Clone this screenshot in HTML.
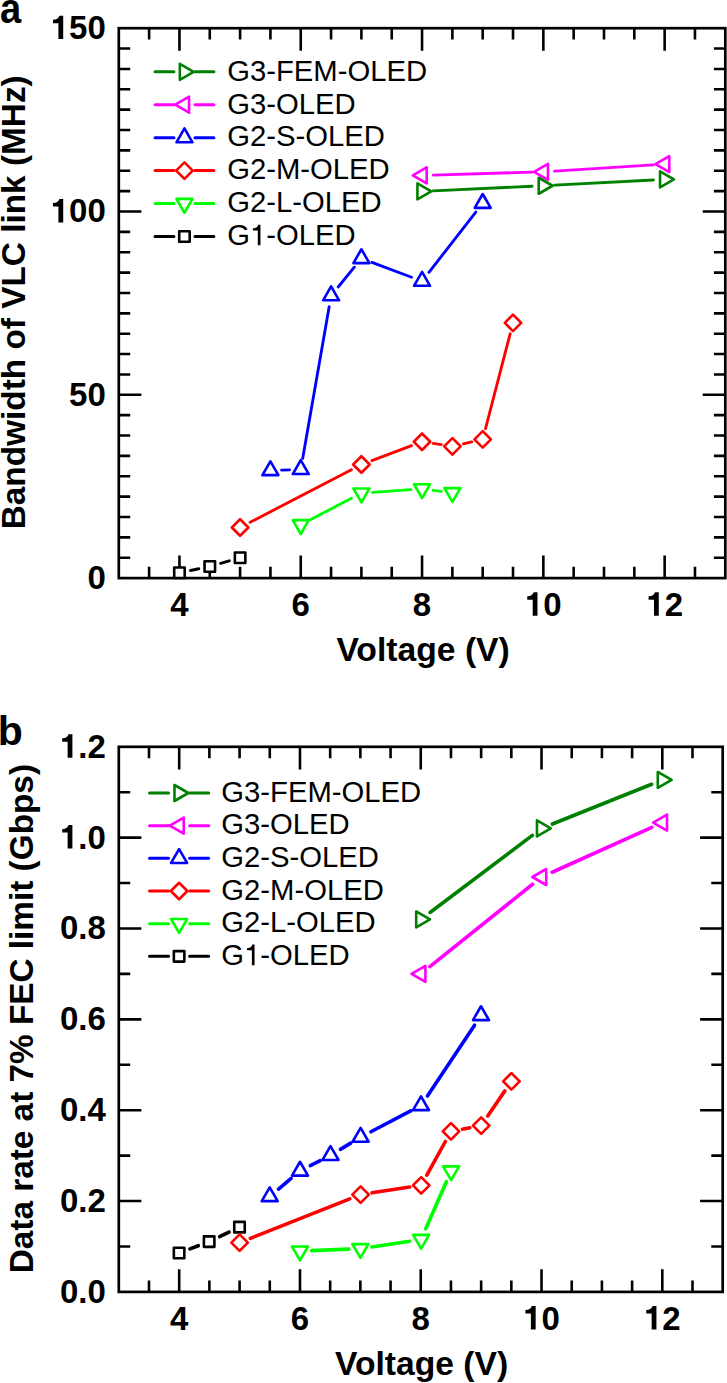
<!DOCTYPE html>
<html><head><meta charset="utf-8"><style>
html,body{margin:0;padding:0;background:#fff;}
svg{display:block;}
text{font-family:"Liberation Sans",sans-serif;fill:#000;}
.tk{font-size:33px;font-weight:bold;}
.ax{font-size:33px;font-weight:bold;}
.lg{font-size:29.25px;}
.pl{font-size:41px;font-weight:bold;}
</style></head><body>
<svg width="727" height="1383" viewBox="0 0 727 1383">
<rect width="727" height="1383" fill="#fff"/>
<path d="M179.45 578.1v-22.6M179.45 28.2v22.6M300.75 578.1v-22.6M300.75 28.2v22.6M422.05 578.1v-22.6M422.05 28.2v22.6M543.35 578.1v-22.6M543.35 28.2v22.6M664.65 578.1v-22.6M664.65 28.2v22.6M149.12 578.1v-11.4M149.12 28.2v11.4M209.77 578.1v-11.4M209.77 28.2v11.4M240.1 578.1v-11.4M240.1 28.2v11.4M270.43 578.1v-11.4M270.43 28.2v11.4M331.07 578.1v-11.4M331.07 28.2v11.4M361.4 578.1v-11.4M361.4 28.2v11.4M391.73 578.1v-11.4M391.73 28.2v11.4M452.38 578.1v-11.4M452.38 28.2v11.4M482.7 578.1v-11.4M482.7 28.2v11.4M513.02 578.1v-11.4M513.02 28.2v11.4M573.67 578.1v-11.4M573.67 28.2v11.4M604 578.1v-11.4M604 28.2v11.4M634.32 578.1v-11.4M634.32 28.2v11.4M694.97 578.1v-11.4M694.97 28.2v11.4M118.8 394.8h22.6M725.3 394.8h-22.6M118.8 211.5h22.6M725.3 211.5h-22.6M118.8 557.73h11.4M725.3 557.73h-11.4M118.8 537.37h11.4M725.3 537.37h-11.4M118.8 517h11.4M725.3 517h-11.4M118.8 496.63h11.4M725.3 496.63h-11.4M118.8 476.27h11.4M725.3 476.27h-11.4M118.8 455.9h11.4M725.3 455.9h-11.4M118.8 435.53h11.4M725.3 435.53h-11.4M118.8 415.17h11.4M725.3 415.17h-11.4M118.8 374.43h11.4M725.3 374.43h-11.4M118.8 354.07h11.4M725.3 354.07h-11.4M118.8 333.7h11.4M725.3 333.7h-11.4M118.8 313.33h11.4M725.3 313.33h-11.4M118.8 292.97h11.4M725.3 292.97h-11.4M118.8 272.6h11.4M725.3 272.6h-11.4M118.8 252.23h11.4M725.3 252.23h-11.4M118.8 231.87h11.4M725.3 231.87h-11.4M118.8 191.13h11.4M725.3 191.13h-11.4M118.8 170.77h11.4M725.3 170.77h-11.4M118.8 150.4h11.4M725.3 150.4h-11.4M118.8 130.03h11.4M725.3 130.03h-11.4M118.8 109.67h11.4M725.3 109.67h-11.4M118.8 89.3h11.4M725.3 89.3h-11.4M118.8 68.93h11.4M725.3 68.93h-11.4M118.8 48.57h11.4M725.3 48.57h-11.4" stroke="#000" stroke-width="2.6" fill="none"/>
<rect x="118.8" y="28.2" width="606.5" height="549.9" fill="none" stroke="#000" stroke-width="2.7"/>
<path d="M190.44 570.49L198.81 568.76M220.58 563.37L229.32 560.83" fill="none" stroke="#000000" stroke-width="2.85" stroke-linecap="round"/>
<polygon points="174.2,567.5 184.7,567.5 184.7,578 174.2,578" fill="#fff" stroke="#000000" stroke-width="2.6" stroke-linejoin="round"/>
<polygon points="204.55,561.25 215.05,561.25 215.05,571.75 204.55,571.75" fill="#fff" stroke="#000000" stroke-width="2.6" stroke-linejoin="round"/>
<polygon points="234.85,552.45 245.35,552.45 245.35,562.95 234.85,562.95" fill="#fff" stroke="#000000" stroke-width="2.6" stroke-linejoin="round"/>
<path d="M310.7 519.56L351.45 498.29M372.6 492.32L410.85 489.68M433.19 490.29L441.26 491.31" fill="none" stroke="#00ff00" stroke-width="2.85" stroke-linecap="round"/>
<polygon points="300.75,533.99 308.75,520.13 292.75,520.13" fill="#fff" stroke="#00ff00" stroke-width="2.6" stroke-linejoin="round"/>
<polygon points="361.4,502.34 369.4,488.48 353.4,488.48" fill="#fff" stroke="#00ff00" stroke-width="2.6" stroke-linejoin="round"/>
<polygon points="422.05,498.14 430.05,484.28 414.05,484.28" fill="#fff" stroke="#00ff00" stroke-width="2.6" stroke-linejoin="round"/>
<polygon points="452.4,501.94 460.4,488.08 444.4,488.08" fill="#fff" stroke="#00ff00" stroke-width="2.6" stroke-linejoin="round"/>
<path d="M250.06 522.33L351.44 469.67M371.91 460.56L411.54 445.69M433.15 443.41L441.3 444.64M463.34 443.81L471.76 441.89M485.52 428.54L510.18 333.71" fill="none" stroke="#ff0000" stroke-width="2.85" stroke-linecap="round"/>
<polygon points="240.1,519.25 248.35,527.5 240.1,535.75 231.85,527.5" fill="#fff" stroke="#ff0000" stroke-width="2.6" stroke-linejoin="round"/>
<polygon points="361.4,456.25 369.65,464.5 361.4,472.75 353.15,464.5" fill="#fff" stroke="#ff0000" stroke-width="2.6" stroke-linejoin="round"/>
<polygon points="422.05,433.5 430.3,441.75 422.05,450 413.8,441.75" fill="#fff" stroke="#ff0000" stroke-width="2.6" stroke-linejoin="round"/>
<polygon points="452.4,438.05 460.65,446.3 452.4,454.55 444.15,446.3" fill="#fff" stroke="#ff0000" stroke-width="2.6" stroke-linejoin="round"/>
<polygon points="482.7,431.15 490.95,439.4 482.7,447.65 474.45,439.4" fill="#fff" stroke="#ff0000" stroke-width="2.6" stroke-linejoin="round"/>
<polygon points="513,314.6 521.25,322.85 513,331.1 504.75,322.85" fill="#fff" stroke="#ff0000" stroke-width="2.6" stroke-linejoin="round"/>
<path d="M281.62 470.14L289.53 469.86M302.68 458.39L329.17 306.76M338.19 287L354.31 267.2M371.91 262.43L411.54 277.27M428.94 272.34L475.81 212.11" fill="none" stroke="#0000ff" stroke-width="2.85" stroke-linecap="round"/>
<polygon points="270.4,461.31 278.4,475.17 262.4,475.17" fill="#fff" stroke="#0000ff" stroke-width="2.6" stroke-linejoin="round"/>
<polygon points="300.75,460.21 308.75,474.07 292.75,474.07" fill="#fff" stroke="#0000ff" stroke-width="2.6" stroke-linejoin="round"/>
<polygon points="331.1,286.46 339.1,300.32 323.1,300.32" fill="#fff" stroke="#0000ff" stroke-width="2.6" stroke-linejoin="round"/>
<polygon points="361.4,249.26 369.4,263.12 353.4,263.12" fill="#fff" stroke="#0000ff" stroke-width="2.6" stroke-linejoin="round"/>
<polygon points="422.05,271.96 430.05,285.82 414.05,285.82" fill="#fff" stroke="#0000ff" stroke-width="2.6" stroke-linejoin="round"/>
<polygon points="482.7,194.01 490.7,207.87 474.7,207.87" fill="#fff" stroke="#0000ff" stroke-width="2.6" stroke-linejoin="round"/>
<path d="M433.27 175.07L532.13 172.13M554.55 171.09L653.45 164.86" fill="none" stroke="#ff00ff" stroke-width="2.85" stroke-linecap="round"/>
<polygon points="412.81,175.4 426.67,183.4 426.67,167.4" fill="#fff" stroke="#ff00ff" stroke-width="2.6" stroke-linejoin="round"/>
<polygon points="534.11,171.8 547.97,179.8 547.97,163.8" fill="#fff" stroke="#ff00ff" stroke-width="2.6" stroke-linejoin="round"/>
<polygon points="655.41,164.15 669.27,172.15 669.27,156.15" fill="#fff" stroke="#ff00ff" stroke-width="2.6" stroke-linejoin="round"/>
<path d="M433.26 190.83L532.14 186.27M554.56 185.16L653.44 179.99" fill="none" stroke="#008000" stroke-width="2.85" stroke-linecap="round"/>
<polygon points="431.29,191.35 417.43,199.35 417.43,183.35" fill="#fff" stroke="#008000" stroke-width="2.6" stroke-linejoin="round"/>
<polygon points="552.59,185.75 538.73,193.75 538.73,177.75" fill="#fff" stroke="#008000" stroke-width="2.6" stroke-linejoin="round"/>
<polygon points="673.89,179.4 660.03,187.4 660.03,171.4" fill="#fff" stroke="#008000" stroke-width="2.6" stroke-linejoin="round"/>
<path d="M155 71.8H173.95M194.95 71.8H213.9" stroke="#008000" stroke-width="3.0" stroke-linecap="round" fill="none"/>
<polygon points="193.69,71.8 179.83,79.8 179.83,63.8" fill="#fff" stroke="#008000" stroke-width="2.6" stroke-linejoin="round"/>
<text x="227.2" y="80.6" class="lg" style="font-kerning:none">G3-FEM-OLED</text>
<path d="M155 104.73H173.95M194.95 104.73H213.9" stroke="#ff00ff" stroke-width="3.0" stroke-linecap="round" fill="none"/>
<polygon points="175.21,104.73 189.07,112.73 189.07,96.73" fill="#fff" stroke="#ff00ff" stroke-width="2.6" stroke-linejoin="round"/>
<text x="227.2" y="113.53" class="lg" style="font-kerning:none">G3-OLED</text>
<path d="M155 137.66H173.95M194.95 137.66H213.9" stroke="#0000ff" stroke-width="3.0" stroke-linecap="round" fill="none"/>
<polygon points="184.45,128.42 192.45,142.28 176.45,142.28" fill="#fff" stroke="#0000ff" stroke-width="2.6" stroke-linejoin="round"/>
<text x="227.2" y="146.46" class="lg" style="font-kerning:none">G2-S-OLED</text>
<path d="M155 170.59H173.95M194.95 170.59H213.9" stroke="#ff0000" stroke-width="3.0" stroke-linecap="round" fill="none"/>
<polygon points="184.45,162.34 192.7,170.59 184.45,178.84 176.2,170.59" fill="#fff" stroke="#ff0000" stroke-width="2.6" stroke-linejoin="round"/>
<text x="227.2" y="179.39" class="lg" style="font-kerning:none">G2-M-OLED</text>
<path d="M155 203.52H173.95M194.95 203.52H213.9" stroke="#00ff00" stroke-width="3.0" stroke-linecap="round" fill="none"/>
<polygon points="184.45,212.76 192.45,198.9 176.45,198.9" fill="#fff" stroke="#00ff00" stroke-width="2.6" stroke-linejoin="round"/>
<text x="227.2" y="212.32" class="lg" style="font-kerning:none">G2-L-OLED</text>
<path d="M155 236.45H173.95M194.95 236.45H213.9" stroke="#000000" stroke-width="3.0" stroke-linecap="round" fill="none"/>
<polygon points="179.2,231.2 189.7,231.2 189.7,241.7 179.2,241.7" fill="#fff" stroke="#000000" stroke-width="2.6" stroke-linejoin="round"/>
<text x="227.2" y="245.25" class="lg" style="font-kerning:none">G -OLED</text>
<path transform="translate(249.95 245.25) scale(29.25)" d="M0.359 0L0.359 -0.703L0.284 -0.703C0.268 -0.640 0.225 -0.585 0.101 -0.577L0.101 -0.508L0.268 -0.508L0.268 0Z"/>
<text x="87.45" y="589" class="tk" style="font-kerning:none">0</text>
<text x="69.09" y="405.7" class="tk" style="font-kerning:none">50</text>
<text x="50.74" y="222.4" class="tk" style="font-kerning:none"> 00</text>
<path transform="translate(50.74 222.4) scale(33)" d="M0.378 0L0.378 -0.710L0.262 -0.710C0.245 -0.640 0.19 -0.592 0.069 -0.588L0.069 -0.484L0.233 -0.484L0.233 0Z"/>
<text x="50.74" y="39.1" class="tk" style="font-kerning:none"> 50</text>
<path transform="translate(50.74 39.1) scale(33)" d="M0.378 0L0.378 -0.710L0.262 -0.710C0.245 -0.640 0.19 -0.592 0.069 -0.588L0.069 -0.484L0.233 -0.484L0.233 0Z"/>
<text x="170.27" y="615.7" class="tk" style="font-kerning:none">4</text>
<text x="291.57" y="615.7" class="tk" style="font-kerning:none">6</text>
<text x="412.87" y="615.7" class="tk" style="font-kerning:none">8</text>
<text x="525" y="615.7" class="tk" style="font-kerning:none"> 0</text>
<path transform="translate(525 615.7) scale(33)" d="M0.378 0L0.378 -0.710L0.262 -0.710C0.245 -0.640 0.19 -0.592 0.069 -0.588L0.069 -0.484L0.233 -0.484L0.233 0Z"/>
<text x="646.3" y="615.7" class="tk" style="font-kerning:none"> 2</text>
<path transform="translate(646.3 615.7) scale(33)" d="M0.378 0L0.378 -0.710L0.262 -0.710C0.245 -0.640 0.19 -0.592 0.069 -0.588L0.069 -0.484L0.233 -0.484L0.233 0Z"/>
<text x="423.1" y="660.7" class="ax" style="font-size:33.7px" text-anchor="middle">Voltage (V)</text>
<text transform="translate(24.9 302.3) rotate(-90)" class="ax" style="font-size:33.37px" text-anchor="middle">Bandwidth of VLC link (MHz)</text>
<text transform="translate(0 23.1) scale(0.93 1.05)" class="pl">a</text>
<path d="M179.19 1291.9v-22.6M179.19 746.8v22.6M299.97 1291.9v-22.6M299.97 746.8v22.6M420.75 1291.9v-22.6M420.75 746.8v22.6M541.53 1291.9v-22.6M541.53 746.8v22.6M662.31 1291.9v-22.6M662.31 746.8v22.6M149 1291.9v-11.4M149 746.8v11.4M209.38 1291.9v-11.4M209.38 746.8v11.4M239.58 1291.9v-11.4M239.58 746.8v11.4M269.78 1291.9v-11.4M269.78 746.8v11.4M330.17 1291.9v-11.4M330.17 746.8v11.4M360.36 1291.9v-11.4M360.36 746.8v11.4M390.56 1291.9v-11.4M390.56 746.8v11.4M450.95 1291.9v-11.4M450.95 746.8v11.4M481.14 1291.9v-11.4M481.14 746.8v11.4M511.34 1291.9v-11.4M511.34 746.8v11.4M571.73 1291.9v-11.4M571.73 746.8v11.4M601.92 1291.9v-11.4M601.92 746.8v11.4M632.12 1291.9v-11.4M632.12 746.8v11.4M692.51 1291.9v-11.4M692.51 746.8v11.4M118.8 1201.05h22.6M722.7 1201.05h-22.6M118.8 1110.2h22.6M722.7 1110.2h-22.6M118.8 1019.35h22.6M722.7 1019.35h-22.6M118.8 928.5h22.6M722.7 928.5h-22.6M118.8 837.65h22.6M722.7 837.65h-22.6M118.8 1246.48h11.4M722.7 1246.48h-11.4M118.8 1155.62h11.4M722.7 1155.62h-11.4M118.8 1064.78h11.4M722.7 1064.78h-11.4M118.8 973.92h11.4M722.7 973.92h-11.4M118.8 883.07h11.4M722.7 883.07h-11.4M118.8 792.22h11.4M722.7 792.22h-11.4" stroke="#000" stroke-width="2.6" fill="none"/>
<rect x="118.8" y="746.8" width="603.9" height="545.1" fill="none" stroke="#000" stroke-width="2.7"/>
<path d="M189.94 1248.92L198.31 1245.73M219.62 1236.61L229.03 1232.14" fill="none" stroke="#000000" stroke-width="3.6" stroke-linecap="round"/>
<polygon points="173.85,1247.8 184.35,1247.8 184.35,1258.3 173.85,1258.3" fill="#fff" stroke="#000000" stroke-width="2.6" stroke-linejoin="round"/>
<polygon points="203.9,1236.35 214.4,1236.35 214.4,1246.85 203.9,1246.85" fill="#fff" stroke="#000000" stroke-width="2.6" stroke-linejoin="round"/>
<polygon points="234.25,1221.9 244.75,1221.9 244.75,1232.4 234.25,1232.4" fill="#fff" stroke="#000000" stroke-width="2.6" stroke-linejoin="round"/>
<path d="M311.59 1250.64L348.81 1249.16M371.87 1246.95L409.63 1241.2M425.75 1228.82L446.45 1181.58" fill="none" stroke="#00ff00" stroke-width="3.6" stroke-linecap="round"/>
<polygon points="300,1260.34 308,1246.48 292,1246.48" fill="#fff" stroke="#00ff00" stroke-width="2.6" stroke-linejoin="round"/>
<polygon points="360.4,1257.94 368.4,1244.08 352.4,1244.08" fill="#fff" stroke="#00ff00" stroke-width="2.6" stroke-linejoin="round"/>
<polygon points="421.1,1248.69 429.1,1234.83 413.1,1234.83" fill="#fff" stroke="#00ff00" stroke-width="2.6" stroke-linejoin="round"/>
<polygon points="451.1,1180.19 459.1,1166.33 443.1,1166.33" fill="#fff" stroke="#00ff00" stroke-width="2.6" stroke-linejoin="round"/>
<path d="M250.38 1238.32L349.82 1198.88M372.07 1192.84L409.73 1187.06M426.81 1175.15L445.39 1141.5M462.39 1129.16L469.81 1127.74M487.74 1115.97L504.86 1090.88" fill="none" stroke="#ff0000" stroke-width="3.6" stroke-linecap="round"/>
<polygon points="239.6,1234.35 247.85,1242.6 239.6,1250.85 231.35,1242.6" fill="#fff" stroke="#ff0000" stroke-width="2.6" stroke-linejoin="round"/>
<polygon points="360.6,1186.35 368.85,1194.6 360.6,1202.85 352.35,1194.6" fill="#fff" stroke="#ff0000" stroke-width="2.6" stroke-linejoin="round"/>
<polygon points="421.2,1177.05 429.45,1185.3 421.2,1193.55 412.95,1185.3" fill="#fff" stroke="#ff0000" stroke-width="2.6" stroke-linejoin="round"/>
<polygon points="451,1123.1 459.25,1131.35 451,1139.6 442.75,1131.35" fill="#fff" stroke="#ff0000" stroke-width="2.6" stroke-linejoin="round"/>
<polygon points="481.2,1117.3 489.45,1125.55 481.2,1133.8 472.95,1125.55" fill="#fff" stroke="#ff0000" stroke-width="2.6" stroke-linejoin="round"/>
<polygon points="511.4,1073.05 519.65,1081.3 511.4,1089.55 503.15,1081.3" fill="#fff" stroke="#ff0000" stroke-width="2.6" stroke-linejoin="round"/>
<path d="M278.57 1189.07L291.13 1178.48M310.32 1165.7L320.18 1160.65M340.43 1149.35L350.67 1143.15M370.88 1131.77L410.72 1110.93M427.43 1095.9L474.57 1025.15" fill="none" stroke="#0000ff" stroke-width="3.6" stroke-linecap="round"/>
<polygon points="269.7,1187.31 277.7,1201.17 261.7,1201.17" fill="#fff" stroke="#0000ff" stroke-width="2.6" stroke-linejoin="round"/>
<polygon points="300,1161.76 308,1175.62 292,1175.62" fill="#fff" stroke="#0000ff" stroke-width="2.6" stroke-linejoin="round"/>
<polygon points="330.5,1146.11 338.5,1159.97 322.5,1159.97" fill="#fff" stroke="#0000ff" stroke-width="2.6" stroke-linejoin="round"/>
<polygon points="360.6,1127.91 368.6,1141.77 352.6,1141.77" fill="#fff" stroke="#0000ff" stroke-width="2.6" stroke-linejoin="round"/>
<polygon points="421,1096.31 429,1110.17 413,1110.17" fill="#fff" stroke="#0000ff" stroke-width="2.6" stroke-linejoin="round"/>
<polygon points="481,1006.26 489,1020.12 473,1020.12" fill="#fff" stroke="#0000ff" stroke-width="2.6" stroke-linejoin="round"/>
<path d="M429.85 966.64L532.55 884.26M552.18 872.24L651.82 827.36" fill="none" stroke="#ff00ff" stroke-width="3.6" stroke-linecap="round"/>
<polygon points="411.56,973.9 425.42,981.9 425.42,965.9" fill="#fff" stroke="#ff00ff" stroke-width="2.6" stroke-linejoin="round"/>
<polygon points="532.36,877 546.22,885 546.22,869" fill="#fff" stroke="#ff00ff" stroke-width="2.6" stroke-linejoin="round"/>
<polygon points="653.16,822.6 667.02,830.6 667.02,814.6" fill="#fff" stroke="#ff00ff" stroke-width="2.6" stroke-linejoin="round"/>
<path d="M430.06 912.47L532.34 835.33M552.37 824.04L651.63 784.26" fill="none" stroke="#008000" stroke-width="3.6" stroke-linecap="round"/>
<polygon points="430.04,919.45 416.18,927.45 416.18,911.45" fill="#fff" stroke="#008000" stroke-width="2.6" stroke-linejoin="round"/>
<polygon points="550.84,828.35 536.98,836.35 536.98,820.35" fill="#fff" stroke="#008000" stroke-width="2.6" stroke-linejoin="round"/>
<polygon points="671.64,779.95 657.78,787.95 657.78,771.95" fill="#fff" stroke="#008000" stroke-width="2.6" stroke-linejoin="round"/>
<path d="M149.5 793H168.6M189.6 793H208.7" stroke="#008000" stroke-width="3.0" stroke-linecap="round" fill="none"/>
<polygon points="188.34,793 174.48,801 174.48,785" fill="#fff" stroke="#008000" stroke-width="2.6" stroke-linejoin="round"/>
<text x="221.3" y="801.8" class="lg" style="font-kerning:none">G3-FEM-OLED</text>
<path d="M149.5 825.67H168.6M189.6 825.67H208.7" stroke="#ff00ff" stroke-width="3.0" stroke-linecap="round" fill="none"/>
<polygon points="169.86,825.67 183.72,833.67 183.72,817.67" fill="#fff" stroke="#ff00ff" stroke-width="2.6" stroke-linejoin="round"/>
<text x="221.3" y="834.47" class="lg" style="font-kerning:none">G3-OLED</text>
<path d="M149.5 858.34H168.6M189.6 858.34H208.7" stroke="#0000ff" stroke-width="3.0" stroke-linecap="round" fill="none"/>
<polygon points="179.1,849.1 187.1,862.96 171.1,862.96" fill="#fff" stroke="#0000ff" stroke-width="2.6" stroke-linejoin="round"/>
<text x="221.3" y="867.14" class="lg" style="font-kerning:none">G2-S-OLED</text>
<path d="M149.5 891.01H168.6M189.6 891.01H208.7" stroke="#ff0000" stroke-width="3.0" stroke-linecap="round" fill="none"/>
<polygon points="179.1,882.76 187.35,891.01 179.1,899.26 170.85,891.01" fill="#fff" stroke="#ff0000" stroke-width="2.6" stroke-linejoin="round"/>
<text x="221.3" y="899.81" class="lg" style="font-kerning:none">G2-M-OLED</text>
<path d="M149.5 923.68H168.6M189.6 923.68H208.7" stroke="#00ff00" stroke-width="3.0" stroke-linecap="round" fill="none"/>
<polygon points="179.1,932.92 187.1,919.06 171.1,919.06" fill="#fff" stroke="#00ff00" stroke-width="2.6" stroke-linejoin="round"/>
<text x="221.3" y="932.48" class="lg" style="font-kerning:none">G2-L-OLED</text>
<path d="M149.5 956.35H168.6M189.6 956.35H208.7" stroke="#000000" stroke-width="3.0" stroke-linecap="round" fill="none"/>
<polygon points="173.85,951.1 184.35,951.1 184.35,961.6 173.85,961.6" fill="#fff" stroke="#000000" stroke-width="2.6" stroke-linejoin="round"/>
<text x="221.3" y="965.15" class="lg" style="font-kerning:none">G -OLED</text>
<path transform="translate(244.05 965.15) scale(29.25)" d="M0.359 0L0.359 -0.703L0.284 -0.703C0.268 -0.640 0.225 -0.585 0.101 -0.577L0.101 -0.508L0.268 -0.508L0.268 0Z"/>
<text x="59.93" y="1302.8" class="tk" style="font-kerning:none">0.0</text>
<text x="59.93" y="1211.95" class="tk" style="font-kerning:none">0.2</text>
<text x="59.93" y="1121.1" class="tk" style="font-kerning:none">0.4</text>
<text x="59.93" y="1030.25" class="tk" style="font-kerning:none">0.6</text>
<text x="59.93" y="939.4" class="tk" style="font-kerning:none">0.8</text>
<text x="59.93" y="848.55" class="tk" style="font-kerning:none"> .0</text>
<path transform="translate(59.93 848.55) scale(33)" d="M0.378 0L0.378 -0.710L0.262 -0.710C0.245 -0.640 0.19 -0.592 0.069 -0.588L0.069 -0.484L0.233 -0.484L0.233 0Z"/>
<text x="59.93" y="757.7" class="tk" style="font-kerning:none"> .2</text>
<path transform="translate(59.93 757.7) scale(33)" d="M0.378 0L0.378 -0.710L0.262 -0.710C0.245 -0.640 0.19 -0.592 0.069 -0.588L0.069 -0.484L0.233 -0.484L0.233 0Z"/>
<text x="170.01" y="1329.5" class="tk" style="font-kerning:none">4</text>
<text x="290.79" y="1329.5" class="tk" style="font-kerning:none">6</text>
<text x="411.57" y="1329.5" class="tk" style="font-kerning:none">8</text>
<text x="523.18" y="1329.5" class="tk" style="font-kerning:none"> 0</text>
<path transform="translate(523.18 1329.5) scale(33)" d="M0.378 0L0.378 -0.710L0.262 -0.710C0.245 -0.640 0.19 -0.592 0.069 -0.588L0.069 -0.484L0.233 -0.484L0.233 0Z"/>
<text x="643.96" y="1329.5" class="tk" style="font-kerning:none"> 2</text>
<path transform="translate(643.96 1329.5) scale(33)" d="M0.378 0L0.378 -0.710L0.262 -0.710C0.245 -0.640 0.19 -0.592 0.069 -0.588L0.069 -0.484L0.233 -0.484L0.233 0Z"/>
<text x="421.55" y="1374.5" class="ax" style="font-size:33.65px" text-anchor="middle">Voltage (V)</text>
<text transform="translate(33.3 1018.65) rotate(-90)" class="ax" style="font-size:33.35px" text-anchor="middle">Data rate at 7% FEC limit (Gbps)</text>
<text x="-2.3" y="744.6" class="pl">b</text>
</svg>
</body></html>
